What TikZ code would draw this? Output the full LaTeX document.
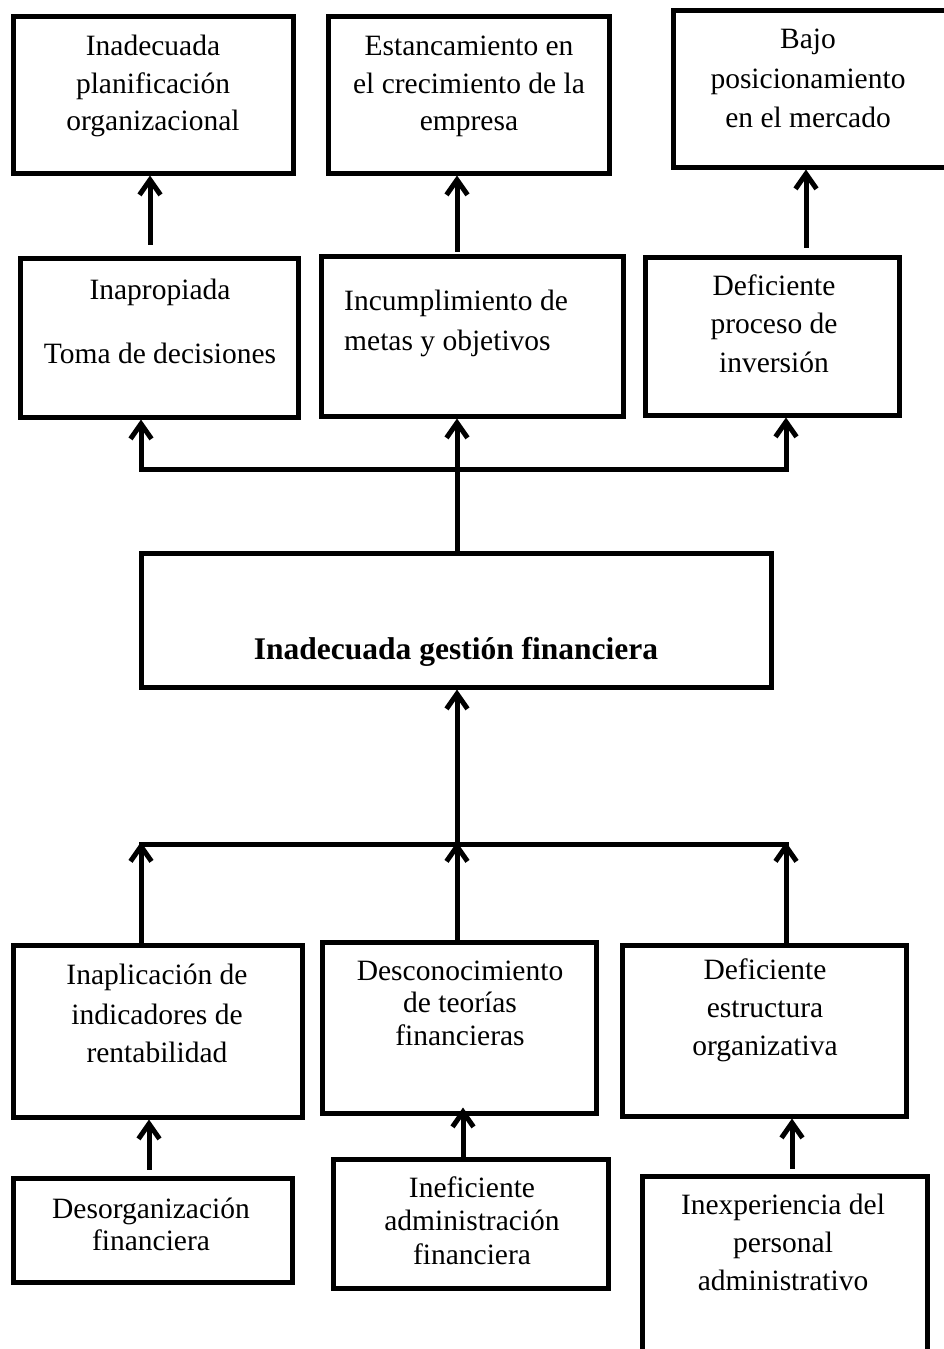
\documentclass[tikz,border=0pt]{standalone}
\usepackage{fontspec}
\setmainfont{Liberation Serif}
\usetikzlibrary{arrows.meta}
\tikzset{
  box/.style={draw, line width=5pt, inner sep=0pt},
  txt/.style={font=\fontsize{29.5}{37.5}\selectfont, inner sep=0pt, anchor=base},
  btxt/.style={font=\fontsize{31.5}{38}\selectfont\bfseries, inner sep=0pt, anchor=base},
  conn/.style={line width=5pt, line cap=rect},
  arr/.style={line width=5pt, -{Straight Barb[length=15pt,width=21pt,line width=5pt]}}
}
\begin{document}
\begin{tikzpicture}[x=1pt,y=-1pt]
\useasboundingbox (0,0) rectangle (944,1349);
\fill[white] (0,0) rectangle (944,1349);
% boxes
\node[box, minimum width=280pt, minimum height=157pt] (B1) at (153,94.5) {};
\node[box, minimum width=281pt, minimum height=157pt] (B2) at (468.5,94.5) {};
\node[box, minimum width=277pt, minimum height=157pt] (B3) at (811.5,88.5) {};
\node[box, minimum width=278pt, minimum height=159pt] (B4) at (159,337.5) {};
\node[box, minimum width=302pt, minimum height=160pt] (B5) at (472,336) {};
\node[box, minimum width=254pt, minimum height=158pt] (B6) at (772,336) {};
\node[box, minimum width=630pt, minimum height=134pt] (BC) at (456,620) {};
\node[box, minimum width=289pt, minimum height=172pt] (B7) at (157.5,1031) {};
\node[box, minimum width=274pt, minimum height=171pt] (B8) at (459,1027.5) {};
\node[box, minimum width=284pt, minimum height=171pt] (B9) at (764,1030.5) {};
\node[box, minimum width=279pt, minimum height=104pt] (B10) at (152.5,1230) {};
\node[box, minimum width=275pt, minimum height=129pt] (B11) at (470.5,1223.5) {};
\node[box, minimum width=285pt, minimum height=184pt] (B12) at (784.5,1268) {};
% texts
\node[txt] (t1a) at (153,55) {Inadecuada};
\node[txt] (t1b) at (153,93) {planificación};
\node[txt] (t1c) at (153,130) {organizacional};
\node[txt] (t2a) at (469,55) {Estancamiento en};
\node[txt] (t2b) at (469,93) {el crecimiento de la};
\node[txt] (t2c) at (469,130) {empresa};
\node[txt] (t3a) at (808,48) {Bajo};
\node[txt] (t3b) at (808,88) {posicionamiento};
\node[txt] (t3c) at (808,127) {en el mercado};
\node[txt] (t4a) at (160,299) {Inapropiada};
\node[txt] (t4b) at (160,363) {Toma de decisiones};
\node[txt, anchor=base west] (t5a) at (344,310) {Incumplimiento de};
\node[txt, anchor=base west] (t5b) at (344,350) {metas y objetivos};
\node[txt] (t6a) at (774,295) {Deficiente};
\node[txt] (t6b) at (774,333) {proceso de};
\node[txt] (t6c) at (774,372) {inversión};
\node[btxt] (tc) at (456,659) {Inadecuada gestión financiera};
\node[txt] (t7a) at (157,984) {Inaplicación de};
\node[txt] (t7b) at (157,1024) {indicadores de};
\node[txt] (t7c) at (157,1062) {rentabilidad};
\node[txt] (t8a) at (460,980) {Desconocimiento};
\node[txt] (t8b) at (460,1012) {de teorías};
\node[txt] (t8c) at (460,1045) {financieras};
\node[txt] (t9a) at (765,979) {Deficiente};
\node[txt] (t9b) at (765,1017) {estructura};
\node[txt] (t9c) at (765,1055) {organizativa};
\node[txt] (t10a) at (151,1218) {Desorganización};
\node[txt] (t10b) at (151,1250) {financiera};
\node[txt] (t11a) at (472,1197) {Ineficiente};
\node[txt] (t11b) at (472,1230) {administración};
\node[txt] (t11c) at (472,1264) {financiera};
\node[txt] (t12a) at (783,1214) {Inexperiencia del};
\node[txt] (t12b) at (783,1252) {personal};
\node[txt] (t12c) at (783,1290) {administrativo};
% column coordinates
\coordinate (xa) at (150,0);
\coordinate (xb) at (457,0);
\coordinate (xc) at (806,0);
\coordinate (xd) at (149,0);
\coordinate (xe) at (463,0);
\coordinate (xf) at (792,0);
\coordinate (jL) at (141,469);
\coordinate (jM) at (457,469);
\coordinate (jR) at (786,469);
\coordinate (kL) at (141,844);
\coordinate (kM) at (457,844);
\coordinate (kR) at (786,844);
% top arrows
\draw[arr, shorten <=11pt] (B4.north -| xa) -- (B1.south -| xa);
\draw[arr, shorten <=2pt] (B5.north -| xb) -- (B2.south -| xb);
\draw[arr, shorten <=7pt] (B6.north -| xc) -- (B3.south -| xc);
% effects tree
\draw[conn] (BC.north -| jM) -- (jM);
\draw[conn] (jL) -- (jR);
\draw[arr] (jL) -- (B4.south -| jL);
\draw[arr] (jM) -- (B5.south -| jM);
\draw[arr] (jR) -- (B6.south -| jR);
% causes tree
\draw[conn] (kL) -- (kR);
\draw[arr] (kM) -- (BC.south -| kM);
\draw[arr, shorten >=-2pt] (B7.north -| kL) -- (kL);
\draw[arr, shorten >=-2pt] (B8.north -| kM) -- (kM);
\draw[arr, shorten >=-2pt] (B9.north -| kR) -- (kR);
% bottom arrows
\draw[arr, shorten <=6pt] (B10.north -| xd) -- (B7.south -| xd);
\draw[arr, shorten >=-8pt] (B11.north -| xe) -- (B8.south -| xe);
\draw[arr, shorten <=5pt] (B12.north -| xf) -- (B9.south -| xf);
\end{tikzpicture}
\end{document}
